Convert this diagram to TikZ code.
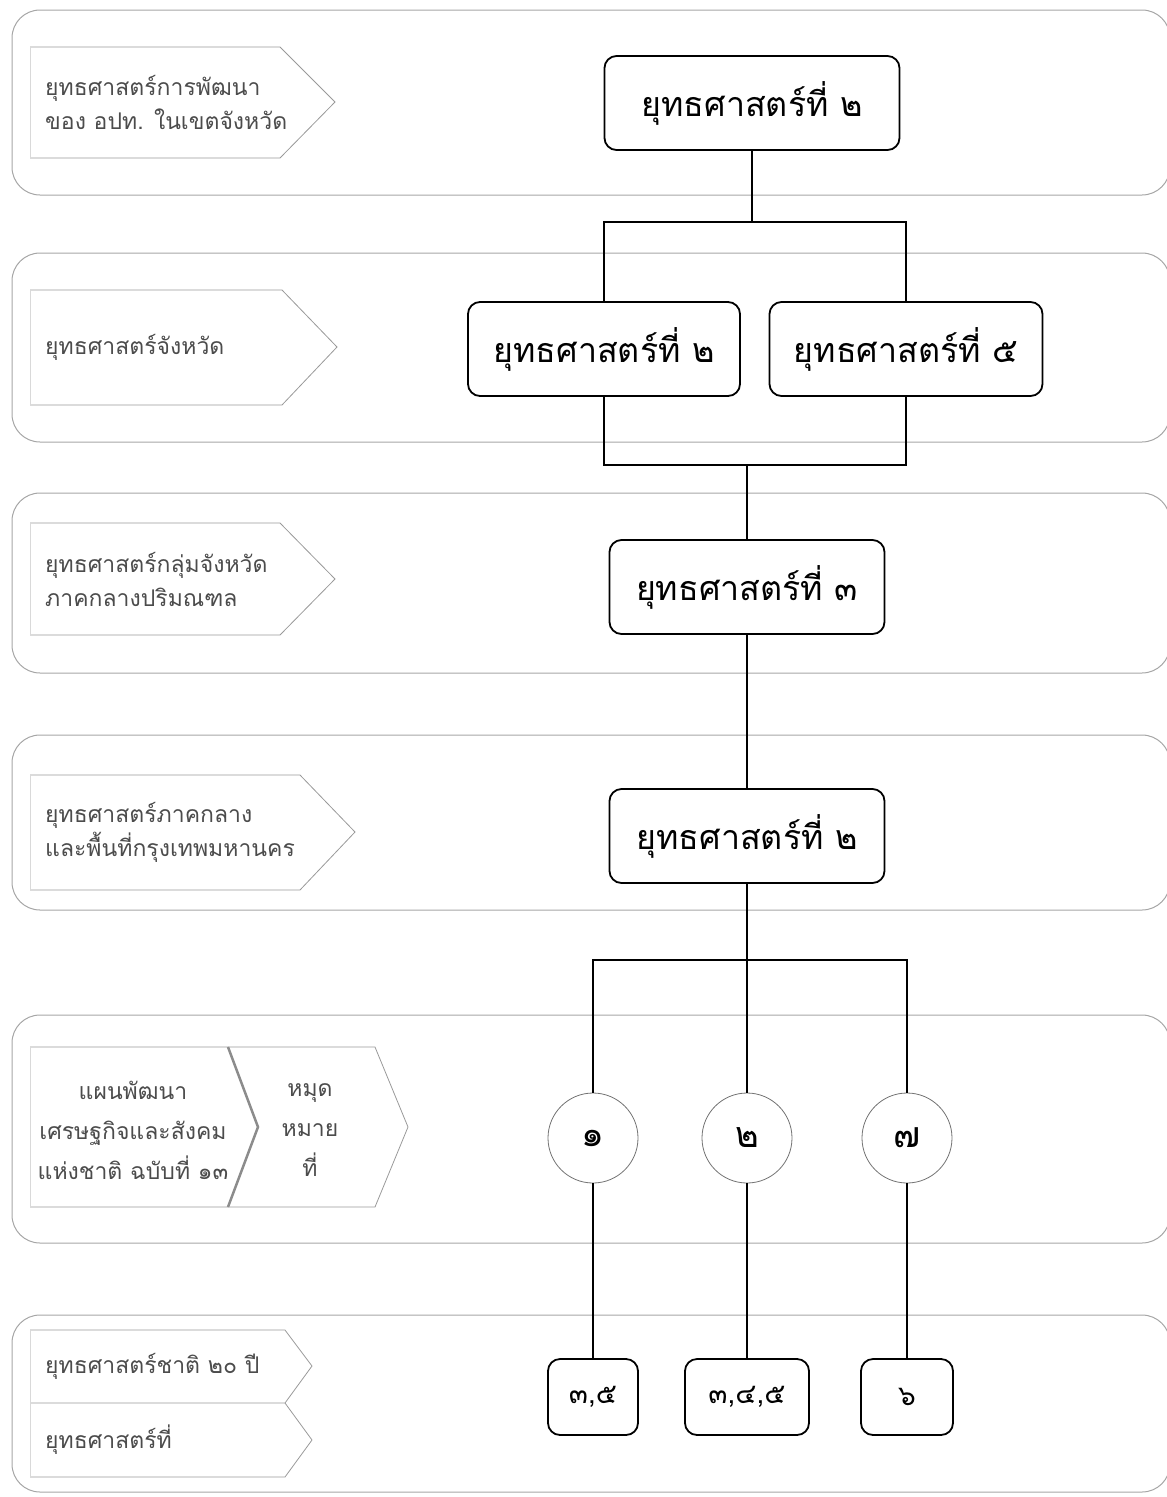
\documentclass[tikz,border=0pt]{standalone}
\usepackage{fontspec}
\setmainfont[Script=Thai]{Loma}

\begin{document}
\begin{tikzpicture}[x=1pt,y=-1pt,
  band/.style={draw=black!35, line width=1pt, rounded corners=28pt},
  tag/.style={draw=black!40, line width=0.8pt},
  lbl/.style={text=black!70, font=\fontsize{23}{34}\selectfont, align=left, anchor=west, inner sep=0pt},
  box/.style={draw, rounded corners=12pt, line width=1.8pt, fill=white, minimum height=94pt, font=\fontsize{34}{40}\selectfont},
  goal/.style={circle, draw=black!55, line width=0.8pt, fill=white, minimum size=90pt, font=\fontsize{36}{40}\selectfont},
  num/.style={draw, rounded corners=12pt, line width=1.8pt, fill=white, minimum height=76pt, font=\fontsize{28}{32}\selectfont},
  link/.style={line width=1.5pt}]
\useasboundingbox (0,0) rectangle (1167,1497);

% bands
\draw[band] (12,10) rectangle (1170,195);
\draw[band] (12,253) rectangle (1170,442);
\draw[band] (12,493) rectangle (1170,673);
\draw[band] (12,735) rectangle (1170,910);
\draw[band] (12,1015) rectangle (1170,1243);
\draw[band] (12,1315) rectangle (1170,1492);

% level tags
\draw[tag] (30,47) -- (280,47) -- (335,102) -- (280,158) -- (30,158);
\draw[tag] (30,290) -- (282,290) -- (337,347) -- (282,405) -- (30,405);
\draw[tag] (30,523) -- (280,523) -- (335,579) -- (280,635) -- (30,635);
\draw[tag] (30,775) -- (300,775) -- (355,832) -- (300,890) -- (30,890);
\draw[tag] (30,1047) -- (375,1047) -- (408,1127) -- (375,1207) -- (30,1207);
\draw[draw=black!45, line width=2.5pt] (228,1047) -- (258,1127) -- (228,1207);
\draw[tag] (30,1330) -- (285,1330) -- (312,1366) -- (285,1403) -- (30,1403);
\draw[tag] (285,1403) -- (312,1440) -- (285,1477) -- (30,1477);
\draw[tag, draw=black!15] (30,47) -- (30,158) (30,290) -- (30,405) (30,523) -- (30,635)
  (30,775) -- (30,890) (30,1047) -- (30,1207) (30,1330) -- (30,1477);

\node[lbl] (t1) at (45,102) {ยุทธศาสตร์การพัฒนา\\ของ อปท. ในเขตจังหวัด};
\node[lbl] (t2) at (45,347) {ยุทธศาสตร์จังหวัด};
\node[lbl] (t3) at (45,579) {ยุทธศาสตร์กลุ่มจังหวัด\\ภาคกลางปริมณฑล};
\node[lbl] (t4) at (45,832) {ยุทธศาสตร์ภาคกลาง\\และพื้นที่กรุงเทพมหานคร};
\node[lbl, anchor=center, align=center, font=\fontsize{23}{40}\selectfont] (t5) at (133,1130) {แผนพัฒนา\\เศรษฐกิจและสังคม\\แห่งชาติ ฉบับที่ ๑๓};
\node[lbl, anchor=center, align=center, font=\fontsize{23}{40}\selectfont] (t6) at (310,1130) {หมุด\\หมาย\\ที่};
\node[lbl] (t7) at (45,1366) {ยุทธศาสตร์ชาติ ๒๐ ปี};
\node[lbl] (t8) at (45,1440) {ยุทธศาสตร์ที่};

% strategies
\node[box, minimum width=295pt] (s1) at (752,103) {ยุทธศาสตร์ที่ ๒};
\node[box, minimum width=272pt] (p2) at (604,349) {ยุทธศาสตร์ที่ ๒};
\node[box, minimum width=273pt] (p5) at (906,349) {ยุทธศาสตร์ที่ ๕};
\node[box, minimum width=275pt] (g3) at (747,587) {ยุทธศาสตร์ที่ ๓};
\node[box, minimum width=275pt] (r2) at (747,836) {ยุทธศาสตร์ที่ ๒};

% milestones
\node[goal] (m1) at (593,1138) {๑};
\node[goal] (m2) at (747,1138) {๒};
\node[goal] (m7) at (907,1138) {๗};

\node[num, minimum width=90pt] (n1) at (593,1397) {๓,๕};
\node[num, minimum width=124pt] (n2) at (747,1397) {๓,๔,๕};
\node[num, minimum width=92pt] (n3) at (907,1397) {๖};

\coordinate (j1) at (752,222);
\coordinate (j2) at (747,465);
\coordinate (j3) at (747,960);

\draw[link] (s1) -- (j1);
\draw[link] (p2.north) |- (j1) -| (p5.north);
\draw[link] (p2.south) |- (j2) -| (p5.south);
\draw[link] (j2) -- (g3);
\draw[link] (g3) -- (r2);
\draw[link] (r2) -- (j3);
\draw[link] (m1.north) |- (j3) -| (m7.north);
\draw[link] (j3) -- (m2);
\draw[link] (m1) -- (n1);
\draw[link] (m2) -- (n2);
\draw[link] (m7) -- (n3);
\end{tikzpicture}
\end{document}
